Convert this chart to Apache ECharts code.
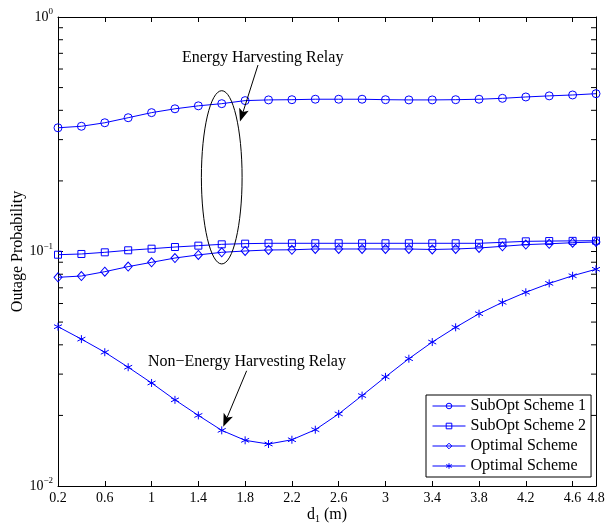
<!DOCTYPE html>
<html>
<head>
<meta charset="utf-8">
<script src="https://cdn.jsdelivr.net/npm/echarts@6/dist/echarts.min.js"></script>
<style>
  html, body { margin: 0; padding: 0; background: #ffffff; }
  #chart { width: 605px; height: 527px; }
</style>
</head>
<body>
<div id="chart"></div>
<script>
// Relay distance d1 (m)
const distances = [0.2, 0.4, 0.6, 0.8, 1.0, 1.2, 1.4, 1.6, 1.8, 2.0, 2.2, 2.4,
                   2.6, 2.8, 3.0, 3.2, 3.4, 3.6, 3.8, 4.0, 4.2, 4.4, 4.6, 4.8];

// Outage probability per scheme
const subOptScheme1 = [0.337, 0.342, 0.354, 0.372, 0.391, 0.406, 0.418, 0.427, 0.440, 0.443, 0.444, 0.446,
                       0.446, 0.446, 0.444, 0.443, 0.443, 0.444, 0.446, 0.450, 0.456, 0.461, 0.465, 0.471];
const subOptScheme2 = [0.0969, 0.0976, 0.0992, 0.1012, 0.1028, 0.1045, 0.1059, 0.1073, 0.1080, 0.1084, 0.1084, 0.1084,
                       0.1084, 0.1084, 0.1084, 0.1084, 0.1084, 0.1084, 0.1084, 0.1094, 0.1105, 0.1108, 0.1110, 0.1112];
const optimalEH     = [0.0776, 0.0786, 0.0820, 0.0862, 0.0899, 0.0938, 0.0967, 0.0992, 0.1005, 0.1015, 0.1017, 0.1025,
                       0.1025, 0.1025, 0.1025, 0.1025, 0.1020, 0.1025, 0.1035, 0.1052, 0.1070, 0.1079, 0.1090, 0.1098];
const optimalNonEH  = [0.0478, 0.0423, 0.0372, 0.0321, 0.0275, 0.0233, 0.0200, 0.01727, 0.01566, 0.0151, 0.01575, 0.01738,
                       0.0203, 0.0243, 0.0292, 0.0349, 0.0411, 0.0475, 0.0543, 0.0607, 0.0670, 0.0731, 0.0788, 0.0840];

// Legend labels (the last two share a label)
const seriesLabels = ['SubOpt Scheme 1', 'SubOpt Scheme 2', 'Optimal Scheme', 'Optimal Scheme'];

// Axis ticks
const xTickValues = [0.2, 0.6, 1, 1.4, 1.8, 2.2, 2.6, 3, 3.4, 3.8, 4.2, 4.6, 4.8];
const yMinorTickValues = [0.02, 0.03, 0.04, 0.05, 0.06, 0.07, 0.08, 0.09,
                          0.2, 0.3, 0.4, 0.5, 0.6, 0.7, 0.8, 0.9];

// Annotation anchors in data coordinates
const ehLabelAt = [1.26, 0.668];
const ehArrowFrom = [1.91, 0.624];
const ehArrowTo = [1.756, 0.358];
const ehEllipse = { x: 1.6, halfWidth: 0.174, top: 0.485, bottom: 0.0885 };
const nonEhLabelAt = [0.969, 0.0339];
const nonEhArrowFrom = [1.813, 0.031];
const nonEhArrowTo = [1.613, 0.0179];

const FONT = 'Liberation Serif';
const BLUE = '#0000ff';
const HOLLOW = 'rgba(0,0,0,0)';
const ASTERISK = 'path://M5 0 L5 10 M0.67 2.5 L9.33 7.5 M0.67 7.5 L9.33 2.5';

const seriesIds = ['s1', 's2', 'optEH', 'optNonEH'];
const seriesValues = [subOptScheme1, subOptScheme2, optimalEH, optimalNonEH];
const seriesSymbols = ['circle', 'rect', 'diamond', ASTERISK];
const seriesSymbolSizes = [8, 7, [8, 9], 8];

const chart = echarts.init(document.getElementById('chart'), null, { renderer: 'canvas' });

function logLabel(v) {
  const e = Math.round(Math.log10(v));
  return '10{sup|' + (e < 0 ? '\u2212' + (-e) : e) + '}';
}

const labelRich = {
  sup: { fontFamily: FONT, fontSize: 9, color: '#000', padding: [0, 0, 10, 0] }
};

const series = seriesIds.map((id, i) => ({
  id: id,
  name: id,
  type: 'line',
  xAxisIndex: 0,
  yAxisIndex: 0,
  data: distances.map((d, k) => [d, seriesValues[i][k]]),
  symbol: seriesSymbols[i],
  symbolSize: seriesSymbolSizes[i],
  showAllSymbol: true,
  lineStyle: { color: BLUE, width: 1 },
  itemStyle: { color: HOLLOW, borderColor: BLUE, borderWidth: 1 },
  emphasis: { disabled: true },
  animation: false,
  z: 3
}));

const labelById = {};
seriesIds.forEach((id, i) => { labelById[id] = seriesLabels[i]; });

chart.setOption({
  animation: false,
  backgroundColor: '#ffffff',
  grid: { left: 58, right: 9, top: 17, bottom: 41, outerBoundsMode: 'none' },
  legend: {
    data: seriesIds,
    orient: 'vertical',
    left: 426,
    top: 395,
    itemWidth: 33,
    itemHeight: 7,
    itemGap: 4,
    padding: [3, 5, 3, 6],
    borderColor: '#000',
    borderWidth: 1,
    backgroundColor: '#fff',
    selectedMode: false,
    itemStyle: { color: HOLLOW, borderColor: BLUE, borderWidth: 1 },
    lineStyle: { color: BLUE, width: 1 },
    formatter: (name) => labelById[name],
    textStyle: { fontFamily: FONT, fontSize: 16, color: '#000' }
  },
  xAxis: [
    {
      type: 'value', min: 0.2, max: 4.8, position: 'bottom',
      name: 'd{sub|1} (m)', nameLocation: 'middle', nameGap: 19, nameMoveOverlap: false,
      nameTextStyle: {
        fontFamily: FONT, fontSize: 16, color: '#000',
        rich: { sub: { fontFamily: FONT, fontSize: 10, color: '#000', padding: [9, 0, 0, 0] } }
      },
      axisLine: { onZero: false, lineStyle: { color: '#000', width: 1 } },
      axisTick: { inside: true, length: 5, customValues: xTickValues, lineStyle: { color: '#000' } },
      axisLabel: { customValues: xTickValues, margin: 5, fontFamily: FONT, fontSize: 14, color: '#000',
                   formatter: (v) => String(+v.toFixed(1)) },
      splitLine: { show: false }
    },
    {
      type: 'value', min: 0.2, max: 4.8, position: 'top',
      axisLine: { onZero: false, lineStyle: { color: '#000', width: 1 } },
      axisTick: { inside: true, length: 5, customValues: xTickValues, lineStyle: { color: '#000' } },
      axisLabel: { show: false },
      splitLine: { show: false }
    }
  ],
  yAxis: [
    {
      type: 'log', logBase: 10, min: 0.01, max: 1, position: 'left',
      name: 'Outage Probability', nameLocation: 'middle', nameGap: 32, nameMoveOverlap: false,
      nameTextStyle: { fontFamily: FONT, fontSize: 16, color: '#000' },
      axisLine: { onZero: false, lineStyle: { color: '#000', width: 1 } },
      axisTick: { inside: true, length: 5, lineStyle: { color: '#000' } },
      axisLabel: { margin: 5, fontFamily: FONT, fontSize: 14, color: '#000',
                   formatter: logLabel, rich: labelRich },
      splitLine: { show: false }
    },
    {
      type: 'log', logBase: 10, min: 0.01, max: 1, position: 'right',
      axisLine: { onZero: false, lineStyle: { color: '#000', width: 1 } },
      axisTick: { inside: true, length: 5, lineStyle: { color: '#000' } },
      axisLabel: { show: false },
      splitLine: { show: false }
    }
  ],
  series: series
});

// Decorations placed through the axes' own coordinate conversion
function px(pt) { return chart.convertToPixel({ xAxisIndex: 0, yAxisIndex: 0 }, pt); }

function arrow(from, to) {
  const a = px(from), b = px(to);
  const dx = b[0] - a[0], dy = b[1] - a[1];
  const len = Math.hypot(dx, dy);
  const ux = dx / len, uy = dy / len;
  const headLen = 13, headHalf = 5;
  const bx = b[0] - ux * headLen, by = b[1] - uy * headLen;
  const nx = b[0] - ux * (headLen - 3), ny = b[1] - uy * (headLen - 3);
  return [
    { type: 'line', shape: { x1: a[0], y1: a[1], x2: nx, y2: ny },
      style: { stroke: '#000', lineWidth: 1 }, z: 10, silent: true },
    { type: 'polygon',
      shape: { points: [[b[0], b[1]],
                        [bx - uy * headHalf, by + ux * headHalf],
                        [nx, ny],
                        [bx + uy * headHalf, by - ux * headHalf]] },
      style: { fill: '#000' }, z: 10, silent: true }
  ];
}

const gridLeft = px([0.2, 1])[0];
const gridRight = px([4.8, 1])[0];
const minorTicks = [];
yMinorTickValues.forEach((v) => {
  const y = px([0.2, v])[1];
  minorTicks.push({ type: 'line', shape: { x1: gridLeft, y1: y, x2: gridLeft + 5, y2: y },
                    style: { stroke: '#000', lineWidth: 1 }, z: 5, silent: true });
  minorTicks.push({ type: 'line', shape: { x1: gridRight - 5, y1: y, x2: gridRight, y2: y },
                    style: { stroke: '#000', lineWidth: 1 }, z: 5, silent: true });
});

const eTop = px([ehEllipse.x, ehEllipse.top]);
const eBot = px([ehEllipse.x, ehEllipse.bottom]);
const eSide = px([ehEllipse.x + ehEllipse.halfWidth, ehEllipse.top]);
const ellipse = {
  type: 'ellipse',
  shape: { cx: eTop[0], cy: (eTop[1] + eBot[1]) / 2, rx: eSide[0] - eTop[0], ry: (eBot[1] - eTop[1]) / 2 },
  style: { fill: null, stroke: '#000', lineWidth: 1 }, z: 10, silent: true
};

const ehLabel = px(ehLabelAt);
const nonEhLabel = px(nonEhLabelAt);
const texts = [
  { type: 'text', x: ehLabel[0], y: ehLabel[1],
    style: { text: 'Energy Harvesting Relay', font: '16px "Liberation Serif"', fill: '#000',
             textAlign: 'left', textVerticalAlign: 'middle' }, z: 10, silent: true },
  { type: 'text', x: nonEhLabel[0], y: nonEhLabel[1],
    style: { text: 'Non\u2212Energy Harvesting Relay', font: '16px "Liberation Serif"', fill: '#000',
             textAlign: 'left', textVerticalAlign: 'middle' }, z: 10, silent: true }
];

chart.setOption({
  graphic: [].concat(minorTicks, [ellipse], texts,
                     arrow(ehArrowFrom, ehArrowTo), arrow(nonEhArrowFrom, nonEhArrowTo))
});
</script>
</body>
</html>
